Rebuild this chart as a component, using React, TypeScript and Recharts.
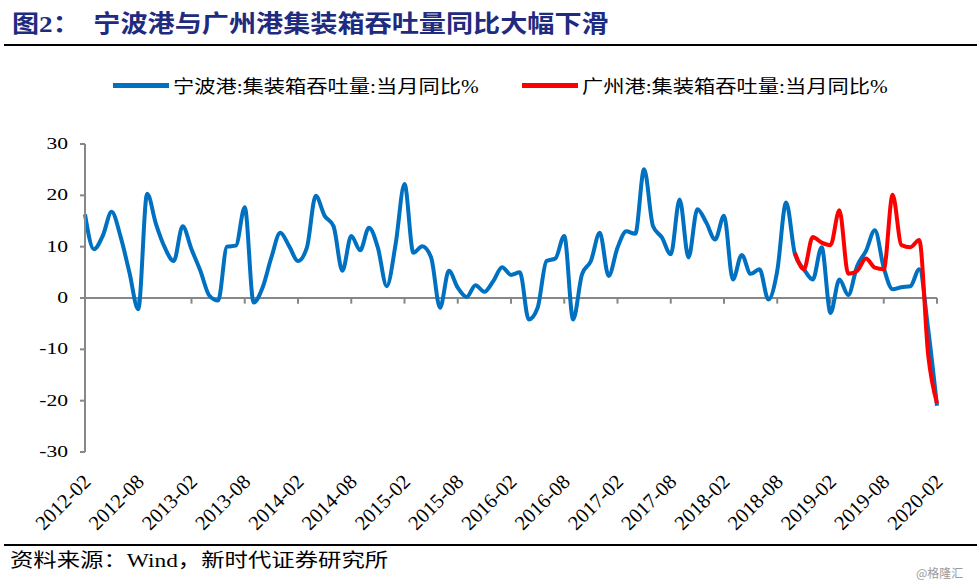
import React from 'react';
import { LineChart, Line, XAxis, YAxis, ReferenceLine } from 'recharts';

// monthly labels 2012-02 .. 2020-02
const startYear = 2012;
const startMonth = 2;
const monthCount = 97;
const months: string[] = Array.from({ length: monthCount }, (_, i) => {
  const m = startMonth - 1 + i;
  const y = startYear + Math.floor(m / 12);
  const mm = (m % 12) + 1;
  return `${y}-${mm < 10 ? '0' + mm : mm}`;
});

// 宁波港:集装箱吞吐量:当月同比%
const ningbo = [
  16.3, 9.5, 12.1, 16.8, 12.0, 5.0, -2.2, 20.3, 14.4, 9.8, 7.2, 14.0,
  9.5, 5.3, 0.5, -0.5, 10.0, 10.2, 17.7, -0.9, 2.0, 7.9, 12.7, 10.1,
  7.2, 9.8, 19.9, 16.0, 14.0, 5.3, 12.1, 9.3, 13.7, 9.8, 2.3, 10.5,
  22.2, 8.8, 10.1, 7.9, -1.9, 5.3, 2.0, 0.2, 2.5, 1.2, 3.3, 6.0,
  4.5, 5.0, -4.2, -1.9, 7.2, 7.7, 12.1, -4.2, 4.6, 7.2, 12.7, 4.3,
  9.8, 13.0, 12.5, 25.1, 14.0, 11.8, 8.5, 19.2, 7.9, 17.3, 14.7, 11.4,
  16.0, 3.6, 8.4, 4.7, 5.6, -0.3, 5.3, 18.6, 8.5, 5.6, 3.6, 9.9,
  -2.9, 3.6, 0.6, 6.2, 9.2, 13.2, 5.9, 1.7, 2.1, 2.3, 5.6, -6.0,
  -21.0,
];

// 广州港:集装箱吞吐量:当月同比% (2018-10 起)
const guangzhouStart = '2018-10';
const guangzhou = [
  8.8, 5.6, 11.9, 10.8, 10.3, 17.1, 4.7, 5.3, 7.7, 5.9, 5.6, 20.1,
  10.3, 9.9, 11.3, -11.0, -20.5,
];

const yTicks = [-30, -20, -10, 0, 10, 20, 30];
const labelEvery = 6;

const gzOffset = months.indexOf(guangzhouStart);
const data = months.map((month, i) => ({
  month,
  ningbo: ningbo[i],
  guangzhou: i >= gzOffset ? guangzhou[i - gzOffset] : null,
}));
const markedMonths = months.filter((_, i) => i > 0 && i % labelEvery === 0);

const serif = '"Liberation Serif", "Noto Sans CJK SC", serif';
const axisGray = '#878787';

const YTick = (props: any) => {
  const { x, y, payload } = props;
  return (
    <g transform={`translate(${x},${y}) scale(1.35,1)`}>
      <text x={0} y={0} dy={5} textAnchor="end" fontSize={16} fontFamily={serif} fill="#000">
        {payload.value}
      </text>
    </g>
  );
};

const XTick = (props: any) => {
  const { x, y, payload } = props;
  return (
    <g transform={`translate(${x + 7},${y + 29})`}>
      <text x={0} y={0} textAnchor="end" transform="rotate(-45)" fontSize={20.5} fontFamily={serif} fill="#000">
        {payload.value}
      </text>
    </g>
  );
};

const LegendItem = ({ color, label, left }: { color: string; label: string; left: number }) => (
  <div style={{ position: 'absolute', left, top: 74, height: 22, display: 'flex', alignItems: 'center' }}>
    <div style={{ width: 56, height: 5, background: color, marginRight: 4 }} />
    <div style={{ fontSize: 18, fontFamily: serif, color: '#000', transform: 'scaleX(1.18)', transformOrigin: 'left center', whiteSpace: 'nowrap' }}>
      {label}
    </div>
  </div>
);

export default function App() {
  return (
    <div style={{ position: 'absolute', left: 0, top: 0, width: 977, height: 584, background: '#fff', overflow: 'hidden' }}>
      <div
        style={{
          position: 'absolute', left: 12, top: 12, fontSize: 24, lineHeight: 1, fontWeight: 700,
          fontFamily: serif, color: '#1E2B7F', whiteSpace: 'pre', transform: 'scaleX(1.13)', transformOrigin: 'left top',
        }}
      >
        {'图2：  宁波港与广州港集装箱吞吐量同比大幅下滑'}
      </div>
      <div style={{ position: 'absolute', left: 4, right: 0, top: 44, height: 2, background: '#000' }} />

      <LegendItem color="#0070C0" label="宁波港:集装箱吞吐量:当月同比%" left={113} />
      <LegendItem color="#FF0000" label="广州港:集装箱吞吐量:当月同比%" left={522} />

      <div style={{ position: 'absolute', left: 0, top: 0 }}>
        <LineChart width={977} height={584} data={data} margin={{ top: 144, right: 40, bottom: 72, left: 15 }}>
          <XAxis
            dataKey="month"
            interval={labelEvery - 1}
            axisLine={false}
            tickLine={false}
            tickSize={0}
            height={60}
            tick={<XTick />}
          />
          <YAxis
            domain={[-30, 30]}
            ticks={yTicks}
            width={70}
            axisLine={{ stroke: axisGray, strokeWidth: 2 }}
            tickLine={{ stroke: axisGray, strokeWidth: 2 }}
            tickSize={5}
            tickMargin={12}
            tick={<YTick />}
          />
          <ReferenceLine y={0} stroke={axisGray} strokeWidth={2} />
          {markedMonths.map((m) => (
            <ReferenceLine
              key={m}
              segment={[{ x: m, y: 0 }, { x: m, y: -1.1 }]}
              stroke={axisGray}
              strokeWidth={2}
            />
          ))}
          <Line
            type="monotone"
            dataKey="ningbo"
            stroke="#0070C0"
            strokeWidth={4}
            dot={false}
            isAnimationActive={false}
          />
          <Line
            type="monotone"
            dataKey="guangzhou"
            stroke="#FF0000"
            strokeWidth={4}
            dot={false}
            isAnimationActive={false}
          />
        </LineChart>
      </div>

      <div style={{ position: 'absolute', left: 4, right: 0, top: 544, height: 2, background: '#000' }} />
      <div
        style={{
          position: 'absolute', left: 10, top: 551, fontSize: 19, lineHeight: 1, fontFamily: serif, color: '#000',
          whiteSpace: 'nowrap', transform: 'scaleX(1.23)', transformOrigin: 'left top',
        }}
      >
        资料来源：Wind，新时代证券研究所
      </div>
      <div style={{ position: 'absolute', left: 916, top: 564, fontSize: 12, color: '#9a9a9a', fontFamily: '"Noto Sans CJK SC", sans-serif' }}>
        @格隆汇
      </div>
    </div>
  );
}
